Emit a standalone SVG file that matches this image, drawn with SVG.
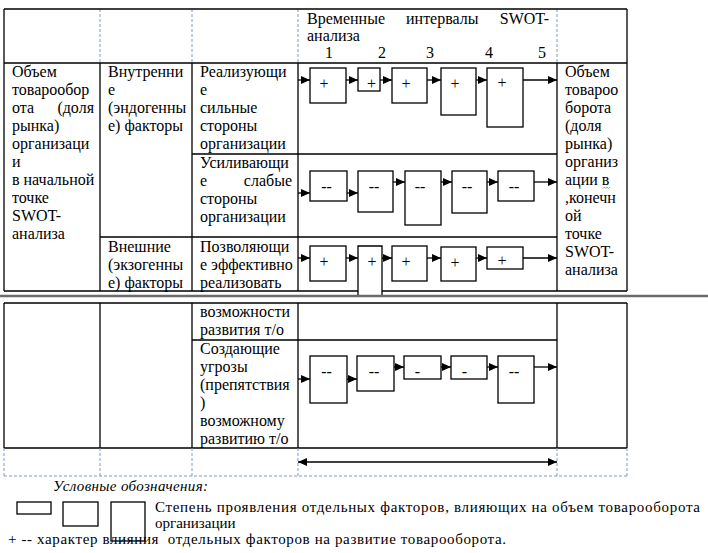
<svg xmlns="http://www.w3.org/2000/svg" width="708" height="553" viewBox="0 0 708 553">
<defs>
<style>
text{font-family:"Liberation Serif","DejaVu Serif","Noto Serif","Times New Roman",serif;fill:#000}
.t{font-size:16px}
.m{font-size:16px;text-anchor:middle}
.lg{font-size:15px}
.it{font-size:15px;font-style:italic}
.ln{stroke:#000;stroke-width:1.3;fill:none}
.ds{stroke:#7f9bc2;stroke-width:1;stroke-dasharray:3 2;fill:none}
.bx{fill:#fff;stroke:#000;stroke-width:1.3}
.ar{stroke:#000;stroke-width:1.3;fill:none;marker-end:url(#ah)}
</style>
<marker id="ah" markerWidth="9" markerHeight="8" refX="9" refY="4" orient="auto-start-reverse" markerUnits="userSpaceOnUse"><path d="M0,0 L9,4 L0,8 z" fill="#000"/></marker>
</defs>
<rect width="708" height="553" fill="#fff"/>

<g id="table-grid">
<path class="ds" d="M100,9V63M192,9V63M298,9V63M557,9V63"/>
<path class="ln" d="M4,9H627M4,63H627M4,291H627M4,9V291M627,9V291M100,63V291M192,63V291M298,63V291M557,63V291M192,154H557M100,237H557"/>
<path class="ln" d="M4,303H627M4,448H627M4,303V448M627,303V448M100,303V448M192,303V448M298,303V448M557,303V448M192,340H557"/>
<path class="ds" d="M4,448V476M100,448V476M192,448V476M298,448V476M557,448V476M627,448V476M4,476H627"/>
</g>

<g id="header-text">
<text class="t" x="307" y="24">Временные</text>
<text class="t" x="406" y="24">интервалы</text>
<text class="t" x="549" y="24" text-anchor="end">SWOT-</text>
<text class="t" x="307" y="41">анализа</text>
<text class="m" x="329" y="58">1</text>
<text class="m" x="382" y="58">2</text>
<text class="m" x="430" y="58">3</text>
<text class="m" x="489" y="58">4</text>
<text class="m" x="542" y="58">5</text>
</g>

<g id="col-start">
<text class="t" x="12" y="77">Объем</text>
<text class="t" x="12" y="95">товарообор</text>
<text class="t" x="12" y="113">ота</text>
<text class="t" x="94" y="113" text-anchor="end">(доля</text>
<text class="t" x="12" y="131">рынка)</text>
<text class="t" x="12" y="149">организаци</text>
<text class="t" x="12" y="167">и</text>
<text class="t" x="12" y="185">в начальной</text>
<text class="t" x="12" y="203">точке</text>
<text class="t" x="12" y="221">SWOT-</text>
<text class="t" x="12" y="239">анализа</text>
</g>

<g id="col-factors">
<text class="t" x="108" y="77">Внутренни</text>
<text class="t" x="108" y="95">е</text>
<text class="t" x="108" y="113">(эндогенны</text>
<text class="t" x="108" y="131">е) факторы</text>
<text class="t" x="108" y="252">Внешние</text>
<text class="t" x="108" y="270">(экзогенны</text>
<text class="t" x="108" y="288">е) факторы</text>
</g>

<g id="col-types">
<text class="t" x="200" y="77">Реализующи</text>
<text class="t" x="200" y="95">е</text>
<text class="t" x="200" y="113">сильные</text>
<text class="t" x="200" y="131">стороны</text>
<text class="t" x="200" y="149">организации</text>
<text class="t" x="200" y="168">Усиливающи</text>
<text class="t" x="200" y="186">е</text>
<text class="t" x="292" y="186" text-anchor="end">слабые</text>
<text class="t" x="200" y="204">стороны</text>
<text class="t" x="200" y="222">организации</text>
<text class="t" x="200" y="252">Позволяющи</text>
<text class="t" x="200" y="270">е эффективно</text>
<text class="t" x="200" y="288">реализовать</text>
<text class="t" x="200" y="317">возможности</text>
<text class="t" x="200" y="335">развития т/о</text>
<text class="t" x="200" y="354">Создающие</text>
<text class="t" x="200" y="372">угрозы</text>
<text class="t" x="200" y="390">(препятствия</text>
<text class="t" x="200" y="408">)</text>
<text class="t" x="200" y="426">возможному</text>
<text class="t" x="200" y="444">развитию т/о</text>
</g>

<g id="col-end">
<text class="t" x="565" y="77">Объем</text>
<text class="t" x="565" y="95">товароо</text>
<text class="t" x="565" y="113">борота</text>
<text class="t" x="565" y="131">(доля</text>
<text class="t" x="565" y="149">рынка)</text>
<text class="t" x="565" y="167">организ</text>
<text class="t" x="565" y="185">ации в</text>
<text class="t" x="565" y="203">,конечн</text>
<text class="t" x="565" y="221">ой</text>
<text class="t" x="565" y="239">точке</text>
<text class="t" x="565" y="257">SWOT-</text>
<text class="t" x="565" y="275">анализа</text>
<path d="M603,188.5l1.4,-1.4l1.4,1.4l1.4,-1.4l1.4,1.4l1.4,-1.4" stroke="#5b9b3c" stroke-width="0.8" fill="none"/>
</g>

<g id="connectors">
<path class="ar" d="M298,80H310"/>
<path class="ar" d="M346,80H358"/>
<path class="ar" d="M380,80H392"/>
<path class="ar" d="M427,80H441"/>
<path class="ar" d="M476,80H487"/>
<path class="ar" d="M523,80H557"/>
<path class="ar" d="M298,193H310"/>
<path class="ar" d="M347,193H358"/>
<path class="ar" d="M393,182H405"/>
<path class="ar" d="M441,182H452"/>
<path class="ar" d="M487,182H498"/>
<path class="ar" d="M534,182H557"/>
<path class="ar" d="M298,258H310"/>
<path class="ar" d="M346,258H358"/>
<path class="ar" d="M382,258H392"/>
<path class="ar" d="M427,258H441"/>
<path class="ar" d="M476,258H487"/>
<path class="ar" d="M523,258H557"/>
<path class="ar" d="M298,379H310"/>
<path class="ar" d="M347,379H357"/>
<path class="ar" d="M394,367H404"/>
<path class="ar" d="M441,367H451"/>
<path class="ar" d="M487,367H498"/>
<path class="ar" d="M534,367H557"/>
<path class="ln" d="M298,462H557" marker-start="url(#ah)" marker-end="url(#ah)"/>
</g>

<g id="s1"><rect class="bx" x="310" y="68" width="36" height="35"/><text class="m" x="324" y="88.5">+</text></g>
<g id="s2"><rect class="bx" x="358" y="68" width="22" height="23"/><text class="m" x="371.5" y="88.5">+</text></g>
<g id="s3"><rect class="bx" x="392" y="68" width="35" height="35"/><text class="m" x="406" y="88.5">+</text></g>
<g id="s4"><rect class="bx" x="441" y="68" width="35" height="47"/><text class="m" x="455" y="88.5">+</text></g>
<g id="s5"><rect class="bx" x="487" y="68" width="36" height="59"/><text class="m" x="502" y="88">+</text></g>

<g id="w1"><rect class="bx" x="310" y="171" width="37" height="30"/><text class="m" x="326.5" y="192">--</text></g>
<g id="w2"><rect class="bx" x="358" y="171" width="35" height="41"/><text class="m" x="374" y="192">--</text></g>
<g id="w3"><rect class="bx" x="405" y="171" width="36" height="54"/><text class="m" x="420" y="192">--</text></g>
<g id="w4"><rect class="bx" x="452" y="171" width="35" height="42"/><text class="m" x="467" y="192">--</text></g>
<g id="w5"><rect class="bx" x="498" y="171" width="36" height="30"/><text class="m" x="514" y="192">--</text></g>

<g id="o1"><rect class="bx" x="310" y="246" width="36" height="35"/><text class="m" x="324" y="266.5">+</text></g>
<g id="o2"><rect x="358" y="246" width="24" height="50" style="fill:#fff;stroke:none"/><path class="ln" d="M358,296V246H382V296"/><text class="m" x="372" y="266.5">+</text></g>
<g id="o3"><rect class="bx" x="392" y="246" width="35" height="35"/><text class="m" x="406" y="266.5">+</text></g>
<g id="o4"><rect class="bx" x="441" y="247" width="35" height="34"/><text class="m" x="455" y="267.5">+</text></g>
<g id="o5"><rect class="bx" x="487" y="247" width="36" height="22"/><text class="m" x="502" y="265.5">+</text></g>

<g id="t1"><rect class="bx" x="310" y="356" width="37" height="47"/><text class="m" x="326.5" y="377">--</text></g>
<g id="t2"><rect class="bx" x="357" y="356" width="37" height="35"/><text class="m" x="374" y="377">--</text></g>
<g id="t3"><rect class="bx" x="404" y="356" width="37" height="23"/><text class="m" x="417.5" y="377">-</text></g>
<g id="t4"><rect class="bx" x="451" y="356" width="36" height="23"/><text class="m" x="464.5" y="377">-</text></g>
<g id="t5"><rect class="bx" x="498" y="356" width="36" height="47"/><text class="m" x="514" y="377">--</text></g>

<g id="page-break"><path d="M0,296H708" stroke="#6b6b6b" stroke-width="2.5"/></g>

<g id="legend">
<text class="it" x="53" y="491" textLength="155">Условные обозначения:</text>
<rect class="bx" x="17" y="502" width="34" height="12"/>
<rect class="bx" x="63" y="502" width="35" height="24"/>
<rect x="111" y="502" width="34" height="39" style="fill:none;stroke:#000;stroke-width:1.3"/>
<text class="lg" x="155" y="512" textLength="545">Степень проявления отдельных факторов, влияющих на объем товарооборота</text>
<text class="lg" x="155" y="528">организации</text>
<text class="lg" x="8" y="544" xml:space="preserve" textLength="498">+ -- характер влияния  отдельных факторов на развитие товарооборота.</text>
</g>
</svg>
